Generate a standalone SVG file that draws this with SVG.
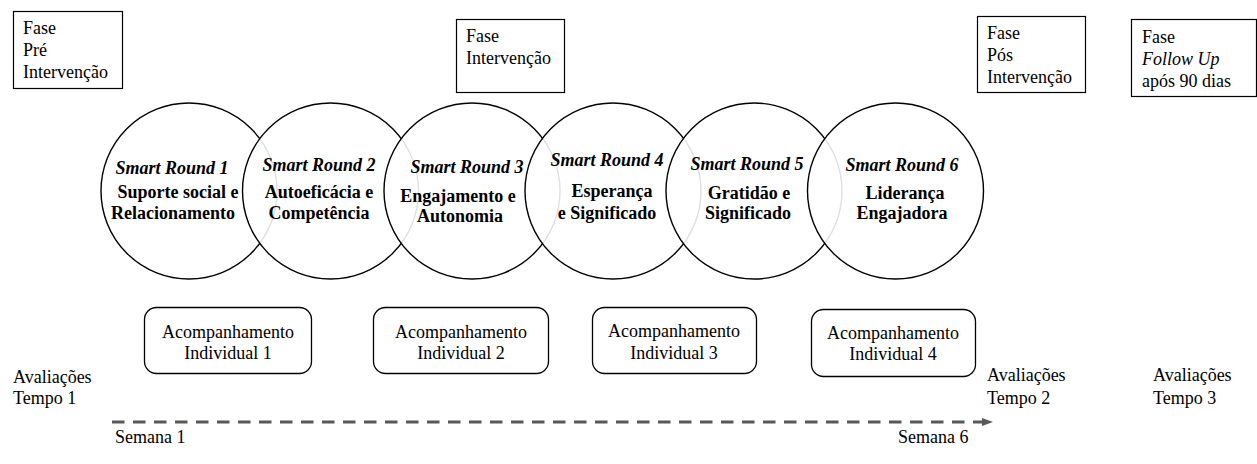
<svg xmlns="http://www.w3.org/2000/svg" width="1257" height="464" viewBox="0 0 1257 464">
  <style>
    text { font-family: 'Liberation Serif', 'DejaVu Serif', 'Times New Roman', Times, serif; font-size: 18px; fill: #000; }
    .phase { fill: #fff; stroke: #000; stroke-width: 1.2; }
    .round { fill: #fff; fill-opacity: 0.88; stroke: #000; stroke-width: 1.4; }
    .title { font-weight: bold; font-style: italic; text-anchor: middle; }
    .topic { font-weight: bold; text-anchor: middle; }
    .session { fill: #fff; stroke: #000; stroke-width: 1.3; }
    .mid { text-anchor: middle; }
    .timeline { stroke: #595959; stroke-width: 3; stroke-dasharray: 12.5 8.5; fill: none; }
  </style>
  <defs>
    <marker id="arrowhead" markerWidth="12" markerHeight="10" refX="0" refY="4" orient="auto" markerUnits="userSpaceOnUse">
      <path d="M0,0 L11,4 L0,8 Z" fill="#595959"/>
    </marker>
  </defs>
  <rect width="1257" height="464" fill="#fff"/>

  <g font-family="Liberation Serif, DejaVu Serif, serif" font-size="18">
  <!-- Phase boxes -->
  <g id="fase-pre">
    <rect class="phase" x="13.5" y="11.5" width="109" height="77"/>
    <text x="23" y="34">Fase</text>
    <text x="23" y="56">Pré</text>
    <text x="23" y="78">Intervenção</text>
  </g>
  <g id="fase-intervencao">
    <rect class="phase" x="456.5" y="19.5" width="108" height="73"/>
    <text x="466" y="42">Fase</text>
    <text x="466" y="64">Intervenção</text>
  </g>
  <g id="fase-pos">
    <rect class="phase" x="977.5" y="16.5" width="108" height="76"/>
    <text x="987" y="39">Fase</text>
    <text x="987" y="61">Pós</text>
    <text x="987" y="83">Intervenção</text>
  </g>
  <g id="fase-follow-up">
    <rect class="phase" x="1131.5" y="19.5" width="125" height="77"/>
    <text x="1142" y="43">Fase</text>
    <text x="1142" y="65" font-style="italic">Follow Up</text>
    <text x="1142" y="87">após 90 dias</text>
  </g>

  <!-- Smart Rounds -->
  <g id="round-1">
    <circle class="round" cx="189" cy="191" r="88"/>
    <text class="title" x="172" y="174">Smart Round 1</text>
    <text class="topic" x="178" y="198">Suporte social e</text>
    <text class="topic" x="173" y="219">Relacionamento</text>
  </g>
  <g id="round-2">
    <circle class="round" cx="330.5" cy="191" r="88"/>
    <text class="title" x="319" y="171">Smart Round 2</text>
    <text class="topic" x="319" y="198">Autoeficácia e</text>
    <text class="topic" x="319" y="219">Competência</text>
  </g>
  <g id="round-3">
    <circle class="round" cx="472" cy="191" r="88"/>
    <text class="title" x="467" y="173">Smart Round 3</text>
    <text class="topic" x="458" y="202">Engajamento e</text>
    <text class="topic" x="460" y="222">Autonomia</text>
  </g>
  <g id="round-4">
    <circle class="round" cx="613" cy="191" r="88"/>
    <text class="title" x="607" y="166">Smart Round 4</text>
    <text class="topic" x="612" y="197">Esperança</text>
    <text class="topic" x="607" y="219">e Significado</text>
  </g>
  <g id="round-5">
    <circle class="round" cx="754" cy="191" r="88"/>
    <text class="title" x="747" y="170">Smart Round 5</text>
    <text class="topic" x="749" y="199">Gratidão e</text>
    <text class="topic" x="748" y="219">Significado</text>
  </g>
  <g id="round-6">
    <circle class="round" cx="895.5" cy="191" r="88"/>
    <text class="title" x="902" y="171">Smart Round 6</text>
    <text class="topic" x="905" y="199">Liderança</text>
    <text class="topic" x="902" y="219">Engajadora</text>
  </g>

  <!-- Individual follow-up sessions -->
  <g id="acompanhamento-1">
    <rect class="session" x="144.5" y="307.5" width="167" height="66" rx="12"/>
    <text class="mid" x="228" y="338">Acompanhamento</text>
    <text class="mid" x="228" y="359">Individual 1</text>
  </g>
  <g id="acompanhamento-2">
    <rect class="session" x="373.5" y="307.5" width="175" height="66" rx="12"/>
    <text class="mid" x="461" y="338">Acompanhamento</text>
    <text class="mid" x="461" y="359">Individual 2</text>
  </g>
  <g id="acompanhamento-3">
    <rect class="session" x="592.5" y="307.5" width="164" height="66" rx="12"/>
    <text class="mid" x="674" y="337">Acompanhamento</text>
    <text class="mid" x="674" y="359">Individual 3</text>
  </g>
  <g id="acompanhamento-4">
    <rect class="session" x="811.5" y="309.5" width="164" height="67" rx="12"/>
    <text class="mid" x="893" y="339">Acompanhamento</text>
    <text class="mid" x="893" y="360">Individual 4</text>
  </g>

  <!-- Assessment points -->
  <g id="avaliacoes-1">
    <text x="13" y="383">Avaliações</text>
    <text x="13" y="404">Tempo 1</text>
  </g>
  <g id="avaliacoes-2">
    <text x="987" y="381">Avaliações</text>
    <text x="987" y="404">Tempo 2</text>
  </g>
  <g id="avaliacoes-3">
    <text x="1153" y="381">Avaliações</text>
    <text x="1153" y="404">Tempo 3</text>
  </g>

  <!-- Timeline -->
  <g id="connectors">
    <path class="timeline" d="M112,422 H982" marker-end="url(#arrowhead)"/>
  </g>
  <g id="semanas">
    <text x="115" y="443">Semana 1</text>
    <text x="898" y="443">Semana 6</text>
  </g>
  </g>
</svg>
